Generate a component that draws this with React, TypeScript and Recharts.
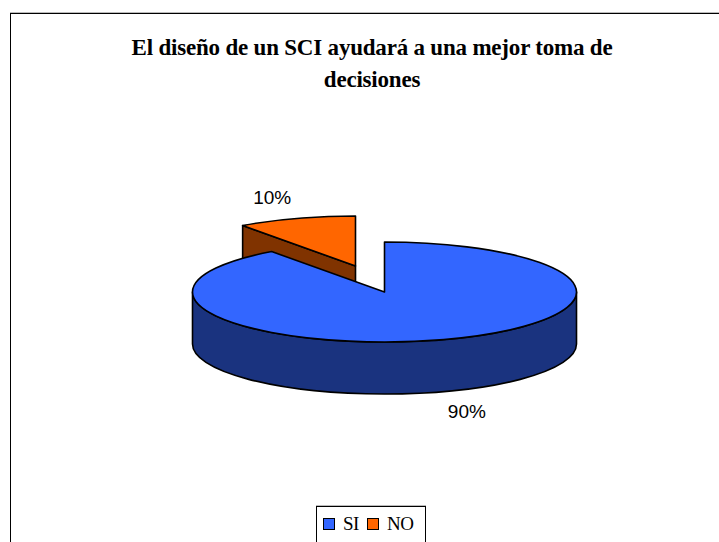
import { PieChart, Pie, Legend } from 'recharts';

const categories = ['SI', 'NO'];
const values = [90, 10];
const topColors = ['#3366ff', '#ff6600'];
const sideColors = ['#1a337f', '#803300'];
const titleLines = ['El diseño de un SCI ayudará a una mejor toma de', 'decisiones'];

const WIDTH = 719;
const HEIGHT = 542;
const CX = 384.5;
const CY = 292;
const RX = 192;
const RY = 50;
const DEPTH = 52;
const EXPLODE: Record<string, [number, number]> = { SI: [0, 0], NO: [-29, -26] };
const LABEL_SHIFT: Record<string, [number, number]> = { SI: [23, 20], NO: [-24, -21] };

// NO goes first so the blue top paints over its wall, angles still start at 12 o'clock
const total = values.reduce((a, b) => a + b, 0);
const startAngle = 90 + (360 * values[1]) / total;
const endAngle = startAngle - 360;
const tableData = categories
  .map((name, i) => ({ name, value: values[i], fill: topColors[i], side: sideColors[i] }))
  .reverse();

const RAD = Math.PI / 180;
const px = (cx: number, a: number) => cx + RX * Math.cos(a * RAD);
const py = (cy: number, a: number) => cy - RY * Math.sin(a * RAD);

function Slice3D(props: any) {
  const { startAngle: a0, endAngle: a1, fill, payload, name } = props;
  const key = payload?.name ?? name;
  const [dx, dy] = EXPLODE[key];
  const cx = CX + dx;
  const cy = CY + dy;
  const exploded = dx !== 0 || dy !== 0;
  const large = Math.abs(a0 - a1) > 180 ? 1 : 0;

  // outer wall, only the part of the rim on the front half
  const wStart = Math.min(a0, 0);
  const wEnd = Math.max(a1, -180);
  const hasWall = wStart > wEnd;

  return (
    <g stroke="#000" strokeWidth={1.6} strokeLinejoin="round">
      {exploded && (
        <path
          d={`M${px(cx, a0)},${py(cy, a0)} L${cx},${cy} L${cx},${cy + DEPTH} L${px(cx, a0)},${py(cy, a0) + DEPTH} Z`}
          fill={payload.side}
        />
      )}
      {hasWall && (
        <path
          d={`M${px(cx, wStart)},${py(cy, wStart)} A${RX},${RY} 0 0 1 ${px(cx, wEnd)},${py(cy, wEnd)} L${px(cx, wEnd)},${py(cy, wEnd) + DEPTH} A${RX},${RY} 0 0 0 ${px(cx, wStart)},${py(cy, wStart) + DEPTH} Z`}
          fill={payload.side}
        />
      )}
      <path
        d={`M${cx},${cy} L${px(cx, a0)},${py(cy, a0)} A${RX},${RY} 0 ${large} 1 ${px(cx, a1)},${py(cy, a1)} Z`}
        fill={fill}
      />
    </g>
  );
}

function PctLabel(props: any) {
  const { midAngle, percent, name, payload } = props;
  const key = payload?.name ?? name;
  const [dx, dy] = EXPLODE[key];
  const [sx, sy] = LABEL_SHIFT[key];
  const below = Math.sin(midAngle * RAD) < 0 ? DEPTH : 0;
  return (
    <text
      x={px(CX + dx, midAngle) + sx}
      y={py(CY + dy, midAngle) + below + sy}
      textAnchor="middle"
      dominantBaseline="central"
      fontFamily="Liberation Sans"
      fontSize={19}
      fill="#000"
    >
      {`${Math.round(percent * 100)}%`}
    </text>
  );
}

function LegendBox({ payload }: any) {
  const items = [...(payload ?? [])].reverse();
  return (
    <div
      style={{
        display: 'flex',
        alignItems: 'center',
        boxSizing: 'border-box',
        height: 50,
        paddingBottom: 14,
        paddingLeft: 6,
        border: '1px solid #000',
        boxShadow: '0 -1px 0 #bbb',
        background: '#fff',
        fontFamily: 'Liberation Serif',
        fontSize: 19,
        letterSpacing: -0.5,
        color: '#000',
      }}
    >
      {items.map((it: any) => (
        <span key={it.value} style={{ display: 'flex', alignItems: 'center', marginRight: 8 }}>
          <span
            style={{
              boxSizing: 'border-box',
              width: 12,
              height: 12,
              marginRight: 8,
              border: '1.5px solid #000',
              background: it.payload?.fill ?? it.color,
            }}
          />
          {it.value}
        </span>
      ))}
    </div>
  );
}

export default function App() {
  return (
    <div
      style={{
        position: 'absolute',
        left: 0,
        top: 0,
        width: WIDTH,
        height: HEIGHT,
        overflow: 'hidden',
        background: '#fff',
      }}
    >
      {/* frame runs off the right and bottom of the picture */}
      <div
        style={{
          position: 'absolute',
          left: 10,
          top: 13,
          width: 800,
          height: 600,
          border: '1px solid #000',
          boxShadow: '0 -1px 0 #bbb',
        }}
      />
      <PieChart width={WIDTH} height={HEIGHT} margin={{ top: 0, right: 0, bottom: 0, left: 0 }}>
        <text
          x={372}
          y={55}
          textAnchor="middle"
          fontFamily="Liberation Serif"
          fontWeight="bold"
          fontSize={23}
          letterSpacing={-0.2}
          fill="#000"
        >
          {titleLines[0]}
        </text>
        <text
          x={372}
          y={87}
          textAnchor="middle"
          fontFamily="Liberation Serif"
          fontWeight="bold"
          fontSize={23}
          letterSpacing={-0.2}
          fill="#000"
        >
          {titleLines[1]}
        </text>
        <Pie
          data={tableData}
          dataKey="value"
          nameKey="name"
          cx={CX}
          cy={CY}
          outerRadius={RX}
          startAngle={startAngle}
          endAngle={endAngle}
          paddingAngle={0}
          shape={Slice3D}
          label={PctLabel}
          labelLine={false}
          isAnimationActive={false}
        />
        <Legend
          content={LegendBox}
          wrapperStyle={{ left: 316, top: 506, bottom: 'auto', width: 110 }}
        />
      </PieChart>
    </div>
  );
}
